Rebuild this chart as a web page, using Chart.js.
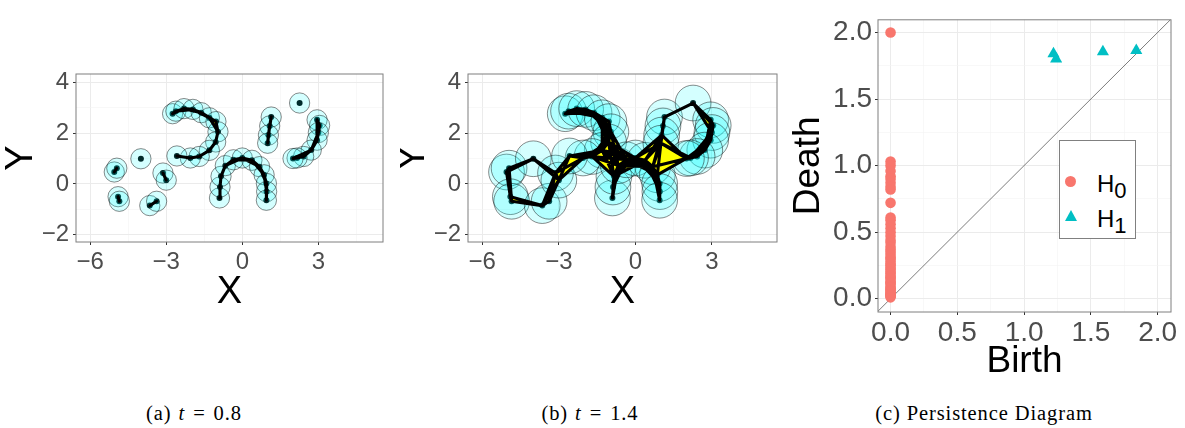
<!DOCTYPE html>
<html>
<head>
<meta charset="utf-8">
<script src="https://cdn.jsdelivr.net/npm/chart.js@4.4.0/dist/chart.umd.min.js"></script>
<style>
  body { margin: 0; background: #fff; width: 1185px; height: 428px; position: relative; overflow: hidden;
         font-family: "Liberation Sans", Arial, sans-serif; }
  .panel { position: absolute; top: 0; }
  .cap { position: absolute; top: 402px; transform: translateX(-50%); white-space: nowrap; letter-spacing: 0.9px;
         font-family: "Liberation Serif", "Times New Roman", serif; font-size: 20.5px; color: #000; }
  .cap i { margin: 0 8px 0 7px; }
  .cap b { font-weight: normal; margin-right: 8px; }
  #legend { position: absolute; left: 1059px; top: 140px; width: 75px; height: 97px;
            border: 1px solid #808080; background: #fff; }
  #legend .lab { position: absolute; left: 37px; font-size: 24px; line-height: 24px; color: #000; }
  #legend .lab span { font-size: 22px; position: relative; top: 6px; }
</style>
</head>
<body>
<div class="panel" style="left:0;width:400px;height:312px"><canvas id="chartA"></canvas></div>
<div class="panel" style="left:400px;width:400px;height:312px"><canvas id="chartB"></canvas></div>
<div class="panel" style="left:790px;width:395px;height:380px"><canvas id="chartC"></canvas></div>

<div id="legend">
  <span style="position:absolute;left:5px;top:35px;width:11px;height:11px;border-radius:50%;background:#F8766D"></span>
  <span class="lab" style="top:31px">H<span>0</span></span>
  <span style="position:absolute;left:5px;top:69px;width:0;height:0;border-left:6px solid transparent;border-right:6px solid transparent;border-bottom:11px solid #00BFC4"></span>
  <span class="lab" style="top:66px">H<span>1</span></span>
</div>

<div class="cap" style="left:194px">(a)<i>t</i><b>=</b>0.8</div>
<div class="cap" style="left:590px">(b)<i>t</i><b>=</b>1.4</div>
<div class="cap" style="left:984px">(c) Persistence Diagram</div>

<script>
// point cloud shown in (a) and (b)
const cloudX = [-5.05, -4.95, -4.90, -4.85, -4.00, -3.65, -3.38, -3.13, -3.00,
  -2.75, -2.62, -2.30, -1.95, -1.62, -1.30, -1.04, -0.96, -1.05, -1.30, -1.70, -2.05, -2.58,
  -0.90, -0.88, -0.84, -0.67, -0.35, 0.00, 0.38, 0.68, 0.86, 0.95, 0.96, 0.95,
  1.14, 1.08, 1.03, 1.00,
  2.26,
  2.95, 3.05, 3.00, 2.95, 2.72, 2.42, 2.16, 2.00];
const cloudY = [0.47, 0.62, -0.50, -0.68, 0.99, -0.85, -0.68, 0.43, 0.15,
  2.76, 2.86, 2.96, 2.93, 2.80, 2.60, 2.45, 2.05, 1.65, 1.32, 1.08, 1.02, 1.10,
  -0.55, -0.12, 0.30, 0.72, 0.95, 1.02, 0.93, 0.68, 0.36, 0.02, -0.30, -0.64,
  2.63, 2.28, 1.92, 1.60,
  3.18,
  2.52, 2.30, 2.02, 1.72, 1.33, 1.08, 1.02, 1.00];
const scaleA = 0.8;
const scaleB = 1.4;

// persistence diagram
const h0Birth = [0, 0, 0, 0, 0, 0, 0, 0, 0, 0, 0, 0, 0, 0, 0, 0, 0, 0, 0, 0, 0, 0, 0, 0,
  0, 0, 0, 0, 0, 0, 0, 0, 0, 0, 0, 0, 0, 0, 0, 0, 0, 0, 0, 0, 0, 0, 0];
const h0Death = [2.0, 1.03, 1.0, 0.96, 0.92, 0.9, 0.87, 0.84, 0.82, 0.72, 0.61, 0.59, 0.56, 0.53, 0.5,
  0.47, 0.44, 0.42, 0.39, 0.37, 0.35, 0.33, 0.31, 0.3, 0.28, 0.26, 0.25, 0.23, 0.22, 0.2, 0.19, 0.17,
  0.16, 0.15, 0.13, 0.12, 0.11, 0.09, 0.08, 0.07, 0.06, 0.05, 0.04, 0.03, 0.03, 0.02, 0.01];
const h1Birth = [1.22, 1.24, 1.59, 1.84];
const h1Death = [1.84, 1.80, 1.855, 1.865];

// axis ticks
const xMajorAB = [-6, -3, 0, 3];
const xMinorAB = [-4.5, -1.5, 1.5, 4.5];
const xLabelsAB = ["\u22126", "\u22123", "0", "3"];
const yMajorAB = [-2, 0, 2, 4];
const yMinorAB = [-1, 1, 3];
const yLabelsAB = ["\u22122", "0", "2", "4"];
const pdMajor = [0, 0.5, 1, 1.5, 2];
const pdMinor = [0.25, 0.75, 1.25, 1.75];
const pdLabels = ["0.0", "0.5", "1.0", "1.5", "2.0"];

const FONT = "'Liberation Sans', Arial, sans-serif";
Chart.defaults.font.family = FONT;
Chart.defaults.animation = false;

const pts = (xs, ys) => xs.map((x, i) => ({ x: x, y: ys[i] }));
const dist = (i, j) => Math.hypot(cloudX[i] - cloudX[j], cloudY[i] - cloudY[j]);

// edges of the Rips complex at scale t, as one broken polyline
function edges(t) {
  const out = [];
  for (let i = 0; i < cloudX.length; i++)
    for (let j = i + 1; j < cloudX.length; j++)
      if (dist(i, j) <= t)
        out.push({ x: cloudX[i], y: cloudY[i] }, { x: cloudX[j], y: cloudY[j] }, { x: null, y: null });
  return out;
}

function gridFor(majors) {
  const isMajor = c => c.tick && majors.includes(c.tick.value);
  return {
    color: c => isMajor(c) ? "#EBEBEB" : "#F3F3F3",
    lineWidth: c => isMajor(c) ? 1 : 0.6,
    tickColor: c => isMajor(c) ? "#333333" : "rgba(0,0,0,0)",
    tickLength: 3,
    drawTicks: true
  };
}

function axis(o) {
  return {
    type: "linear", min: o.min, max: o.max,
    afterBuildTicks: s => { s.ticks = o.majors.concat(o.minors).sort((a, b) => a - b).map(v => ({ value: v })); },
    afterFit: s => { if (s.isHorizontal()) s.height = o.size; else s.width = o.size; },
    ticks: {
      autoSkip: false, maxRotation: 0, padding: o.pad, color: "#4D4D4D",
      font: { size: o.tickSize },
      callback: v => { const i = o.majors.indexOf(v); return i >= 0 ? o.labels[i] : ""; }
    },
    grid: gridFor(o.majors),
    border: { display: false },
    title: { display: true, text: o.title, color: "#000", font: { size: o.titleSize, lineHeight: o.lh },
             padding: o.titlePad }
  };
}

const frame = {
  id: "frame",
  afterDatasetsDraw(chart) {
    const a = chart.chartArea, ctx = chart.ctx;
    ctx.save();
    ctx.strokeStyle = "#7F7F7F";
    ctx.lineWidth = 1;
    ctx.strokeRect(a.left, a.top, a.right - a.left, a.bottom - a.top);
    ctx.restore();
  }
};

// yellow 2-simplices, painted right after the balls
const simplices = {
  id: "simplices",
  afterDatasetDraw(chart, args, opts) {
    if (args.index !== 1 || !opts.t) return;
    const xs = chart.scales.x, ys = chart.scales.y, ctx = chart.ctx, a = chart.chartArea;
    ctx.save();
    ctx.beginPath();
    ctx.rect(a.left, a.top, a.right - a.left, a.bottom - a.top);
    ctx.clip();
    ctx.fillStyle = "#FFFF00";
    const n = cloudX.length;
    for (let i = 0; i < n; i++)
      for (let j = i + 1; j < n; j++) {
        if (dist(i, j) > opts.t) continue;
        for (let k = j + 1; k < n; k++) {
          if (dist(i, k) > opts.t || dist(j, k) > opts.t) continue;
          ctx.beginPath();
          ctx.moveTo(xs.getPixelForValue(cloudX[i]), ys.getPixelForValue(cloudY[i]));
          ctx.lineTo(xs.getPixelForValue(cloudX[j]), ys.getPixelForValue(cloudY[j]));
          ctx.lineTo(xs.getPixelForValue(cloudX[k]), ys.getPixelForValue(cloudY[k]));
          ctx.closePath();
          ctx.fill();
        }
      }
    ctx.restore();
  }
};

function complexChart(id, t, layout, yTitlePad) {
  const radius = ctx => {
    const s = ctx.chart.scales.x;
    return Math.abs(s.getPixelForValue(t / 2) - s.getPixelForValue(0));
  };
  return new Chart(document.getElementById(id), {
    type: "scatter",
    data: {
      datasets: [
        { data: pts(cloudX, cloudY), pointRadius: 3, pointBackgroundColor: "#000", pointBorderWidth: 0, order: 3 },
        { data: pts(cloudX, cloudY), pointRadius: radius, pointBackgroundColor: "rgba(0,255,255,0.17)",
          pointBorderColor: "rgba(0,0,0,0.65)", pointBorderWidth: 0.7, order: 2 },
        { data: edges(t), showLine: true, spanGaps: false, borderColor: "#000", borderWidth: 3.1,
          borderCapStyle: "round", borderJoinStyle: "round", pointRadius: 0, order: 1 }
      ]
    },
    options: {
      responsive: true, maintainAspectRatio: false, events: [],
      layout: { padding: layout },
      plugins: { legend: { display: false }, tooltip: { enabled: false }, simplices: { t: t } },
      scales: {
        x: axis({ min: -6.56, max: 5.55, majors: xMajorAB, minors: xMinorAB, labels: xLabelsAB, size: 70,
                  pad: 3, tickSize: 24, title: "X", titleSize: 38, lh: 1, titlePad: { top: 0, bottom: 0 } }),
        y: axis({ min: -2.28, max: 4.32, majors: yMajorAB, minors: yMinorAB, labels: yLabelsAB, size: layout.yw,
                  pad: 4, tickSize: 24, title: "Y", titleSize: 38, lh: 0.6, titlePad: { top: yTitlePad, bottom: 0 } })
      }
    },
    plugins: [simplices, frame]
  });
}

complexChart("chartA", scaleA, { top: 74, right: 17, left: 0, bottom: 0, yw: 76 }, 10);
complexChart("chartB", scaleB, { top: 74, right: 23, left: 0, bottom: 0, yw: 68 }, 2);

new Chart(document.getElementById("chartC"), {
  type: "scatter",
  data: {
    datasets: [
      { data: [{ x: -0.2, y: -0.2 }, { x: 2.2, y: 2.2 }], showLine: true, borderColor: "#444", borderWidth: 0.7,
        pointRadius: 0, order: 3 },
      { data: pts(h0Birth, h0Death), pointRadius: 5.3, pointBackgroundColor: "#F8766D", pointBorderWidth: 0, order: 2 },
      { data: pts(h1Birth, h1Death), pointStyle: "triangle", pointRadius: 7, pointBackgroundColor: "#00BFC4",
        pointBorderWidth: 0, order: 1 }
    ]
  },
  options: {
    responsive: true, maintainAspectRatio: false, events: [],
    layout: { padding: { top: 6, right: 14, left: 0, bottom: 0 } },
    plugins: { legend: { display: false }, tooltip: { enabled: false } },
    scales: {
      x: axis({ min: -0.094, max: 2.1, majors: pdMajor, minors: pdMinor, labels: pdLabels, size: 68,
                pad: 1, tickSize: 28, title: "Birth", titleSize: 37, lh: 1, titlePad: { top: 0, bottom: 0 } }),
      y: axis({ min: -0.1, max: 2.095, majors: pdMajor, minors: pdMinor, labels: pdLabels, size: 88,
                pad: 3, tickSize: 28, title: "Death", titleSize: 37, lh: 1, titlePad: { top: 0, bottom: 0 } })
    }
  },
  plugins: [frame]
});
</script>
</body>
</html>
